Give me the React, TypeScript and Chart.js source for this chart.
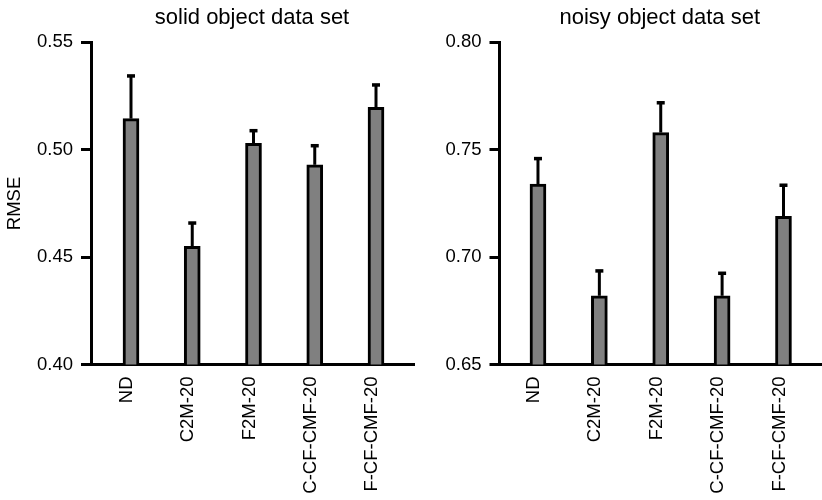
import { useEffect, useRef } from "react";
import { Chart, registerables } from "chart.js";

Chart.register(...registerables);

const categories = ["ND", "C2M-20", "F2M-20", "C-CF-CMF-20", "F-CF-CMF-20"];
const solidRmse = [0.5145, 0.455, 0.503, 0.493, 0.5198];
const solidErr = [0.020, 0.011, 0.006, 0.009, 0.0105];
const noisyRmse = [0.734, 0.682, 0.758, 0.682, 0.719];
const noisyErr = [0.012, 0.0117, 0.014, 0.0106, 0.0146];
const solidTicks = [0.4, 0.45, 0.5, 0.55];
const noisyTicks = [0.65, 0.7, 0.75, 0.8];

const FONT = "'Liberation Sans', Arial, Helvetica, sans-serif";

const errorBarPlugin = {
  id: "errorBars",
  afterDatasetsDraw(chart: any) {
    const ds = chart.data.datasets[0];
    const errs: number[] = ds.errors;
    const meta = chart.getDatasetMeta(0);
    const y = chart.scales.y;
    const ctx = chart.ctx;
    ctx.save();
    ctx.strokeStyle = "#000";
    ctx.fillStyle = "#000";
    ctx.lineWidth = 3;
    meta.data.forEach((bar: any, i: number) => {
      const v = ds.data[i].y;
      const base = y.getPixelForValue(v);
      const top = y.getPixelForValue(v + errs[i]);
      ctx.beginPath();
      ctx.moveTo(bar.x, base);
      ctx.lineTo(bar.x, top);
      ctx.stroke();
      ctx.fillRect(bar.x - 4, top - 1.5, 8, 3.5);
    });
    ctx.restore();
  },
};

type PanelProps = {
  title: string;
  values: number[];
  errors: number[];
  ticks: number[];
  yTitle?: string;
  canvasLeft: number;
  canvasWidth: number;
  axisWidth: number;
  padRight: number;
  xMin: number;
  xMax: number;
};

function Panel(p: PanelProps) {
  const ref = useRef<HTMLCanvasElement | null>(null);
  useEffect(() => {
    if (!ref.current) return;
    const chart = new Chart(ref.current, {
      type: "bar",
      data: {
        datasets: [
          {
            data: p.values.map((v, i) => ({ x: i + 1, y: v })),
            errors: p.errors,
            backgroundColor: "#808080",
            borderColor: "#000000",
            borderWidth: 3,
            barThickness: 16,
          } as any,
        ],
      },
      options: {
        responsive: false,
        animation: false,
        layout: { padding: { left: 0, right: p.padRight, top: 0, bottom: 0 } },
        plugins: {
          legend: { display: false },
          tooltip: { enabled: false },
          title: {
            display: true,
            text: p.title,
            fullSize: false,
            color: "#000",
            font: { family: FONT, size: 22, weight: "normal" },
            padding: { top: 5, bottom: 11 },
          },
        },
        scales: {
          x: {
            type: "linear",
            position: "bottom",
            offset: false,
            min: p.xMin,
            max: p.xMax,
            afterBuildTicks: (scale: any) => {
              scale.ticks = categories.map((_, i) => ({ value: i + 1 }));
            },
            afterFit: (scale: any) => {
              scale.height = 135.5;
            },
            ticks: {
              autoSkip: false,
              minRotation: 90,
              maxRotation: 90,
              padding: 12,
              labelOffset: -4,
              color: "#000",
              font: { family: FONT, size: 18.5 },
              callback: (v: any) => categories[Math.round(Number(v)) - 1] ?? "",
            },
            grid: { display: true, drawOnChartArea: false, drawTicks: false, lineWidth: 3, color: "#000" },
            border: { display: true, color: "#000", width: 3 },
          },
          y: {
            type: "linear",
            min: p.ticks[0],
            max: p.ticks[p.ticks.length - 1],
            afterBuildTicks: (scale: any) => {
              scale.ticks = p.ticks.map((v) => ({ value: v }));
            },
            afterFit: (scale: any) => {
              scale.width = p.axisWidth;
            },
            ticks: {
              padding: 8,
              color: "#000",
              font: { family: FONT, size: 18.5 },
              callback: (v: any) => Number(v).toFixed(2),
            },
            grid: {
              display: true,
              drawOnChartArea: false,
              drawTicks: true,
              tickLength: 10,
              tickWidth: 3,
              lineWidth: 3,
              color: "#000",
              tickColor: "#000",
            },
            border: { display: true, color: "#000", width: 3 },
            title: {
              display: !!p.yTitle,
              text: p.yTitle || "",
              color: "#000",
              font: { family: FONT, size: 18.5 },
              padding: { top: 4, bottom: 4 },
            },
          },
        },
      } as any,
      plugins: [errorBarPlugin],
    });
    return () => chart.destroy();
  }, []);
  return (
    <canvas
      ref={ref}
      width={p.canvasWidth}
      height={500}
      style={{ position: "absolute", left: p.canvasLeft, top: 0, width: p.canvasWidth, height: 500 }}
    />
  );
}

export default function App() {
  return (
    <div style={{ position: "fixed", left: 0, top: 0, width: 822, height: 500, background: "#fff" }}>
      <Panel
        title="solid object data set"
        values={solidRmse}
        errors={solidErr}
        ticks={solidTicks}
        yTitle="RMSE"
        canvasLeft={0}
        canvasWidth={415}
        axisWidth={91}
        padRight={2}
        xMin={0.347}
        xMax={5.604}
      />
      <Panel
        title="noisy object data set"
        values={noisyRmse}
        errors={noisyErr}
        ticks={noisyTicks}
        canvasLeft={411}
        canvasWidth={411}
        axisWidth={88.5}
        padRight={2}
        xMin={0.373}
        xMax={5.595}
      />
    </div>
  );
}
